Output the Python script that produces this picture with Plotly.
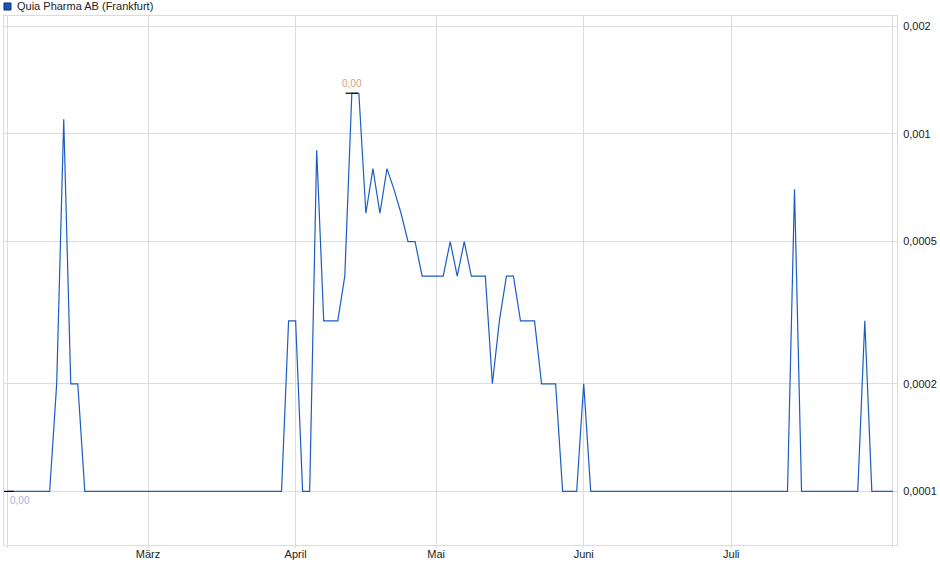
import math
import pandas as pd
import plotly.graph_objects as go

# Quia Pharma AB, Börse Frankfurt, Schlusskurse in EUR (trading days only)
start_day = "2025-02-03"
end_day = "2025-08-01"
holidays = ["2025-04-18", "2025-04-21", "2025-05-01"]

feb = [0.0001, 0.0001, 0.0001, 0.0001, 0.0001, 0.0001, 0.0001, 0.0002, 0.0011, 0.0002,
       0.0002, 0.0001, 0.0001, 0.0001, 0.0001, 0.0001, 0.0001, 0.0001, 0.0001, 0.0001]
mar = [0.0001, 0.0001, 0.0001, 0.0001, 0.0001, 0.0001, 0.0001, 0.0001, 0.0001, 0.0001,
       0.0001, 0.0001, 0.0001, 0.0001, 0.0001, 0.0001, 0.0001, 0.0001, 0.0001, 0.0001,
       0.0003]
apr = [0.0003, 0.0001, 0.0001, 0.0009, 0.0003, 0.0003, 0.0003, 0.0004, 0.0013, 0.0013,
       0.0006, 0.0008, 0.0006, 0.0008, 0.0007, 0.0006, 0.0005, 0.0005, 0.0004, 0.0004]
may = [0.0004, 0.0004, 0.0005, 0.0004, 0.0005, 0.0004, 0.0004, 0.0004, 0.0002, 0.0003,
       0.0004, 0.0004, 0.0003, 0.0003, 0.0003, 0.0002, 0.0002, 0.0002, 0.0001, 0.0001,
       0.0001]
jun = [0.0002, 0.0001, 0.0001, 0.0001, 0.0001, 0.0001, 0.0001, 0.0001, 0.0001, 0.0001,
       0.0001, 0.0001, 0.0001, 0.0001, 0.0001, 0.0001, 0.0001, 0.0001, 0.0001, 0.0001,
       0.0001]
jul = [0.0001, 0.0001, 0.0001, 0.0001, 0.0001, 0.0001, 0.0001, 0.0001, 0.0001, 0.0007,
       0.0001, 0.0001, 0.0001, 0.0001, 0.0001, 0.0001, 0.0001, 0.0001, 0.0001, 0.0003,
       0.0001, 0.0001, 0.0001]
aug = [0.0001]

month_labels = ["", "März", "April", "Mai", "Juni", "Juli", ""]
y_ticks = [0.0001, 0.0002, 0.0005, 0.001, 0.002]
y_labels = ["0,0001", "0,0002", "0,0005", "0,001", "0,002"]
name = "Quia Pharma AB (Frankfurt)"

# build series
days = pd.bdate_range(start_day, end_day)
days = days[~days.isin(pd.to_datetime(holidays))]
close = feb + mar + apr + may + jun + jul + aug
df = pd.DataFrame({"Date": days, "Close": close})

# first trading day of each month -> grid lines
month_starts = df.groupby(df.Date.dt.to_period("M"))["Date"].min().tolist()

i_max = df.Close.idxmax()
i_min = df.Close.idxmin()
fmt = lambda v: f"{v:.2f}".replace(".", ",")

line_blue = "#1c5cc4"
grid = "#dcdcdc"
font = "Liberation Sans, Arial, sans-serif"

fig = go.Figure()
fig.add_trace(go.Scatter(x=df.Date, y=df.Close, mode="lines",
                         line=dict(color=line_blue, width=1.2), showlegend=False))
fig.add_trace(go.Scatter(x=[df.Date[i_max], df.Date[i_min]],
                         y=[df.Close[i_max], df.Close[i_min]], mode="markers",
                         marker=dict(symbol="line-ew", size=9, line=dict(color="black", width=1.2)),
                         showlegend=False))

fig.add_annotation(x=df.Date[i_max], y=math.log10(df.Close[i_max]), text=fmt(df.Close[i_max]),
                   showarrow=False, xanchor="center", yanchor="bottom", yshift=2,
                   font=dict(family=font, size=10, color="#c9a48f"))
fig.add_annotation(x=df.Date[i_min], y=math.log10(df.Close[i_min]), text=fmt(df.Close[i_min]),
                   showarrow=False, xanchor="left", yanchor="top", yshift=-2,
                   font=dict(family=font, size=10, color="#a3b8d8"))

# legend box
fig.add_shape(type="rect", xref="paper", yref="paper", x0=0.0, x1=0.0078, y0=1.0113, y1=1.0246,
              fillcolor="#1c56b9", line=dict(color="#0b2a66", width=1))
fig.add_annotation(xref="paper", yref="paper", x=0.0123, y=1.018, text=name, showarrow=False,
                   xanchor="left", yanchor="middle", font=dict(family=font, size=11, color="#222"))

fig.update_xaxes(
    type="date",
    range=["2025-01-31 12:00", "2025-08-01 14:00"],
    rangebreaks=[dict(bounds=["sat", "mon"]), dict(values=holidays)],
    tickvals=month_starts, ticktext=month_labels,
    showgrid=True, gridcolor=grid, gridwidth=1,
    showline=True, linecolor=grid, mirror=True,
    ticks="outside", ticklen=2, tickcolor=grid,
    ticklabelstandoff=-3,
    tickfont=dict(family=font, size=11, color="#222"),
    zeroline=False,
)
fig.update_yaxes(
    type="log", side="right",
    range=[-4.150, -2.670],
    tickvals=y_ticks, ticktext=y_labels,
    showgrid=True, gridcolor=grid, gridwidth=1,
    showline=True, linecolor=grid, mirror=True,
    ticks="", ticklabelstandoff=3,
    tickfont=dict(family=font, size=11, color="#222"),
    zeroline=False,
)
fig.update_layout(
    width=940, height=579,
    margin=dict(l=3, r=41, t=16, b=34),
    paper_bgcolor="white", plot_bgcolor="white",
    font=dict(family=font, size=11),
)

# page body has an 8px default margin, drop it so the figure fills the window
fig.write_html("out.html", config={"displayModeBar": False},
               post_script="document.body.style.margin='0';")
